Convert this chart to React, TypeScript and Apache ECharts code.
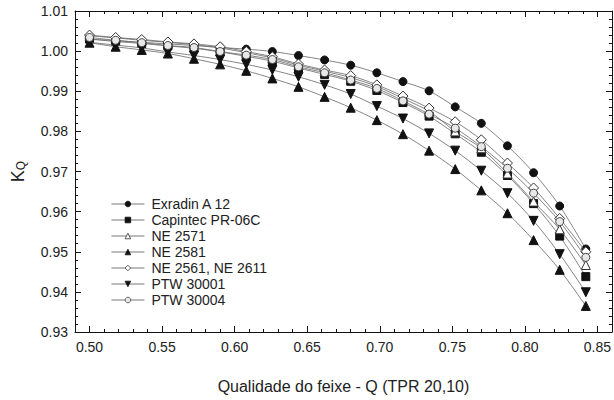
import React, { useEffect, useRef } from "react";
import * as echarts from "echarts";

// Beam quality Q (TPR 20,10)
const qValues = [0.500, 0.518, 0.536, 0.554, 0.572, 0.590, 0.608, 0.626, 0.644, 0.662, 0.680, 0.698, 0.716, 0.734, 0.752, 0.770, 0.788, 0.806, 0.824, 0.842];

const exradinA12 = [1.0030, 1.0026, 1.0022, 1.0018, 1.0014, 1.0009, 1.0005, 0.9999, 0.9989, 0.9978, 0.9965, 0.9946, 0.9924, 0.9901, 0.9861, 0.9820, 0.9764, 0.9697, 0.9614, 0.9507];
const capintecPR06C = [1.0030, 1.0024, 1.0019, 1.0013, 1.0007, 0.9998, 0.9987, 0.9975, 0.9958, 0.9942, 0.9925, 0.9902, 0.9872, 0.9838, 0.9794, 0.9748, 0.9690, 0.9620, 0.9539, 0.9438];
const ne2571 = [1.0038, 1.0033, 1.0027, 1.0022, 1.0016, 1.0008, 0.9996, 0.9983, 0.9965, 0.9950, 0.9934, 0.9912, 0.9882, 0.9850, 0.9800, 0.9758, 0.9695, 0.9625, 0.9556, 0.9467];
const ne2581 = [1.0021, 1.0011, 1.0003, 0.9994, 0.9981, 0.9967, 0.9951, 0.9932, 0.9911, 0.9886, 0.9859, 0.9828, 0.9793, 0.9752, 0.9706, 0.9653, 0.9596, 0.9529, 0.9455, 0.9365];
const ne2561ne2611 = [1.0040, 1.0034, 1.0029, 1.0023, 1.0018, 1.0011, 0.9999, 0.9986, 0.9968, 0.9953, 0.9939, 0.9916, 0.9888, 0.9858, 0.9824, 0.9779, 0.9721, 0.9659, 0.9583, 0.9500];
const ptw30001 = [1.0022, 1.0015, 1.0008, 0.9998, 0.9989, 0.9979, 0.9967, 0.9953, 0.9936, 0.9916, 0.9893, 0.9863, 0.9832, 0.9795, 0.9752, 0.9702, 0.9646, 0.9577, 0.9494, 0.9399];
const ptw30004 = [1.0034, 1.0027, 1.0021, 1.0014, 1.0009, 0.9999, 0.9990, 0.9979, 0.9961, 0.9946, 0.9928, 0.9907, 0.9876, 0.9843, 0.9808, 0.9762, 0.9708, 0.9646, 0.9575, 0.9486];

const seriesNames = ["Exradin A 12", "Capintec PR-06C", "NE 2571", "NE 2581", "NE 2561, NE 2611", "PTW 30001", "PTW 30004"];

const xMajorTicks = [0.50, 0.55, 0.60, 0.65, 0.70, 0.75, 0.80, 0.85];
const xMinorTicks = [0.49, 0.50, 0.51, 0.52, 0.53, 0.54, 0.55, 0.56, 0.57, 0.58, 0.59, 0.60, 0.61, 0.62, 0.63, 0.64, 0.65, 0.66, 0.67, 0.68, 0.69, 0.70, 0.71, 0.72, 0.73, 0.74, 0.75, 0.76, 0.77, 0.78, 0.79, 0.80, 0.81, 0.82, 0.83, 0.84, 0.85, 0.86];

const xTitle = "Qualidade do feixe - Q (TPR 20,10)";

const FONT = "'Liberation Sans', Arial, Helvetica, sans-serif";

export default function App() {
  const ref = useRef<HTMLDivElement>(null);

  useEffect(() => {
    if (!ref.current) return;
    const chart = echarts.init(ref.current, undefined, { renderer: "svg" });

    const pair = (ys: number[]) => qValues.map((q, i) => [q, ys[i]]);

    const styles = [
      { data: exradinA12, symbol: "circle", rotate: 0, fill: "#111", border: "#111", size: 8 },
      { data: capintecPR06C, symbol: "rect", rotate: 0, fill: "#111", border: "#111", size: 8 },
      { data: ne2571, symbol: "triangle", rotate: 0, fill: "#fff", border: "#333", size: 9 },
      { data: ne2581, symbol: "triangle", rotate: 0, fill: "#111", border: "#111", size: 9 },
      { data: ne2561ne2611, symbol: "diamond", rotate: 0, fill: "#fff", border: "#333", size: 10 },
      { data: ptw30001, symbol: "triangle", rotate: 180, fill: "#111", border: "#111", size: 9 },
      { data: ptw30004, symbol: "circle", rotate: 0, fill: "#e8e8e8", border: "#444", size: 8 },
    ];

    const series = styles.map((s, i) => ({
      name: seriesNames[i],
      type: "line",
      xAxisIndex: 0,
      yAxisIndex: 0,
      smooth: 0.3,
      data: pair(s.data),
      symbol: s.symbol,
      symbolRotate: s.rotate,
      symbolSize: s.size,
      showAllSymbol: true,
      lineStyle: { color: "#666", width: 0.8 },
      itemStyle: { color: s.fill, borderColor: s.border, borderWidth: 1 },
      emphasis: { disabled: true },
      z: 2 + i,
    }));

    const axisLine = { show: true, onZero: false, lineStyle: { color: "#111", width: 1 } };

    const option: any = {
      animation: false,
      textStyle: { fontFamily: FONT },
      grid: { left: 73, right: 2, top: 11, bottom: 68, containLabel: false },
      legend: {
        orient: "vertical",
        left: 106,
        top: 192,
        itemWidth: 33,
        itemHeight: 7,
        itemGap: 2,
        data: seriesNames,
        itemStyle: { borderWidth: 0.8 },
        lineStyle: { width: 0.8, color: "#555" },
        textStyle: { fontSize: 14, lineHeight: 14, color: "#222", fontFamily: FONT, padding: [0, 0, 0, 2] },
      },
      xAxis: [
        {
          type: "value",
          position: "bottom",
          min: 0.49,
          max: 0.86,
          axisLine,
          axisTick: { show: true, inside: true, length: 6, customValues: xMajorTicks, lineStyle: { color: "#111" } },
          axisLabel: {
            show: true,
            customValues: xMajorTicks,
            formatter: (v: number) => v.toFixed(2),
            fontSize: 14,
            color: "#222",
            margin: 8,
            fontFamily: FONT,
          },
          splitLine: { show: false },
          name: xTitle,
          nameLocation: "middle",
          nameGap: 46,
          nameTextStyle: { fontSize: 16, color: "#222", fontFamily: FONT },
        },
        {
          type: "value",
          position: "bottom",
          min: 0.49,
          max: 0.86,
          axisLine: { show: false },
          axisTick: { show: true, inside: true, length: 3, customValues: xMinorTicks, lineStyle: { color: "#111" } },
          axisLabel: { show: false },
          splitLine: { show: false },
        },
        {
          type: "value",
          position: "top",
          min: 0.49,
          max: 0.86,
          axisLine,
          axisTick: { show: true, inside: true, length: 6, customValues: xMajorTicks, lineStyle: { color: "#111" } },
          axisLabel: { show: false },
          splitLine: { show: false },
        },
        {
          type: "value",
          position: "top",
          min: 0.49,
          max: 0.86,
          axisLine: { show: false },
          axisTick: { show: true, inside: true, length: 3, customValues: xMinorTicks, lineStyle: { color: "#111" } },
          axisLabel: { show: false },
          splitLine: { show: false },
        },
      ],
      yAxis: [
        {
          type: "value",
          position: "left",
          min: 0.93,
          max: 1.01,
          interval: 0.01,
          axisLine,
          axisTick: { show: true, inside: true, length: 6, lineStyle: { color: "#111" } },
          axisLabel: {
            show: true,
            formatter: (v: number) => v.toFixed(2),
            fontSize: 14,
            color: "#222",
            margin: 7,
            fontFamily: FONT,
          },
          splitLine: { show: false },
          name: "{k|K}{q|Q}",
          nameLocation: "middle",
          nameGap: 48,
          nameRotate: 90,
          nameTextStyle: {
            fontFamily: FONT,
            color: "#222",
            rich: {
              k: { fontSize: 18, color: "#222", fontFamily: FONT, lineHeight: 22, verticalAlign: "bottom" },
              q: { fontSize: 12, color: "#222", fontFamily: FONT, lineHeight: 22, verticalAlign: "bottom", padding: [7, 0, 0, 0] },
            },
          },
        },
        {
          type: "value",
          position: "left",
          min: 0.93,
          max: 1.01,
          interval: 0.002,
          axisLine: { show: false },
          axisTick: { show: true, inside: true, length: 3, lineStyle: { color: "#111" } },
          axisLabel: { show: false },
          splitLine: { show: false },
        },
        {
          type: "value",
          position: "right",
          min: 0.93,
          max: 1.01,
          interval: 0.01,
          axisLine,
          axisTick: { show: true, inside: true, length: 6, lineStyle: { color: "#111" } },
          axisLabel: { show: false },
          splitLine: { show: false },
        },
        {
          type: "value",
          position: "right",
          min: 0.93,
          max: 1.01,
          interval: 0.002,
          axisLine: { show: false },
          axisTick: { show: true, inside: true, length: 3, lineStyle: { color: "#111" } },
          axisLabel: { show: false },
          splitLine: { show: false },
        },
      ],
      series,
    };

    chart.setOption(option);
    return () => chart.dispose();
  }, []);

  return (
    <div
      ref={ref}
      style={{ position: "fixed", left: 0, top: 0, width: 614, height: 400, background: "#fff" }}
    />
  );
}
